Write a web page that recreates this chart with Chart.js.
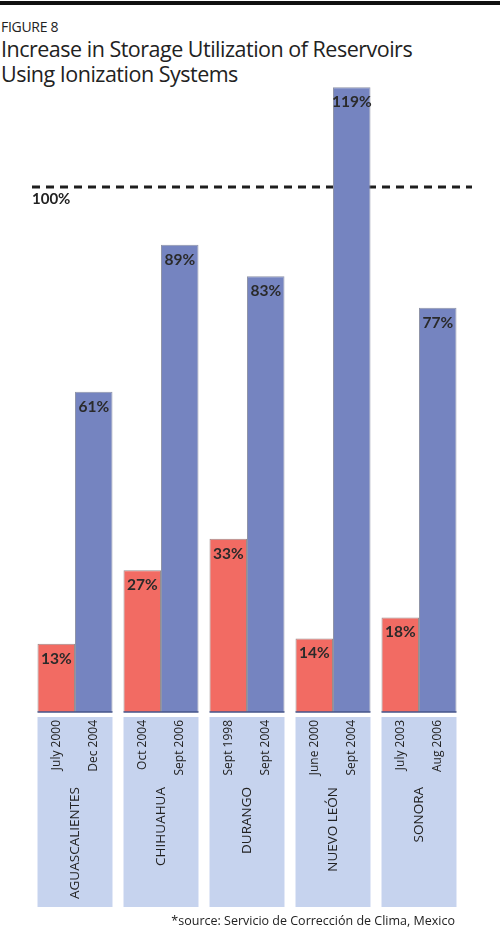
<!DOCTYPE html>
<html>
<head>
<meta charset="utf-8">
<script src="https://cdn.jsdelivr.net/npm/chart.js@4.4.0/dist/chart.umd.min.js"></script>
<style>
  body { margin: 0; background: #fff; }
  #wrap { position: relative; width: 500px; height: 928px; overflow: hidden; }
  #rule { position: absolute; left: 0; top: 1px; width: 500px; height: 4px; background: #111; }
  #fig { position: absolute; left: 1px; top: 17px; font: 14px "Open Sans", sans-serif; color: #222; letter-spacing: -0.3px; }
  #title { position: absolute; left: 1px; top: 36px; font: 21.5px/25px "Open Sans", sans-serif; color: #222; letter-spacing: -0.5px; }
  #src { position: absolute; right: 45px; top: 912px; font: 12.5px "Open Sans", sans-serif; color: #222; }
  canvas { position: absolute; left: 0; top: 0; }
</style>
</head>
<body>
<div id="wrap">
  <div id="rule"></div>
  <div id="fig">FIGURE 8</div>
  <div id="title">Increase in Storage Utilization of Reservoirs<br>Using Ionization Systems</div>
  <canvas id="myChart" width="500" height="928"></canvas>
  <div id="src">*source: Servicio de Corrección de Clima, Mexico</div>
</div>
<script>
var states = ['AGUASCALIENTES', 'CHIHUAHUA', 'DURANGO', 'NUEVO LEÓN', 'SONORA']
var before = [13, 27, 33, 14, 18]
var after = [61, 89, 83, 119, 77]
var beforeDates = ['July 2000', 'Oct 2004', 'Sept 1998', 'June 2000', 'July 2003']
var afterDates = ['Dec 2004', 'Sept 2006', 'Sept 2004', 'Sept 2004', 'Aug 2006']
var fullLevel = 100

// draws the dashed 100% line, the label boxes under the bars and the values
var extras = {
  id: 'extras',
  beforeDatasetsDraw: function(chart) {
    var c = chart.ctx
    var y = chart.scales.y.getPixelForValue(fullLevel)
    c.save()
    c.strokeStyle = '#1e1e1e'
    c.lineWidth = 3
    c.setLineDash([8, 6])
    c.beginPath()
    c.moveTo(32, y)
    c.lineTo(472, y)
    c.stroke()
    c.setLineDash([])
    c.fillStyle = '#222'
    c.font = 'bold 15px Lato, sans-serif'
    c.textBaseline = 'top'
    c.fillText(fullLevel + '%', 32, y + 5)
    c.restore()
  },
  afterDatasetsDraw: function(chart) {
    var c = chart.ctx
    var base = chart.scales.y.getPixelForValue(0)
    var m0 = chart.getDatasetMeta(0).data
    var m1 = chart.getDatasetMeta(1).data
    c.save()
    for (var i = 0; i < states.length; i++) {
      var left = m0[i].x - m0[i].width / 2
      var right = m1[i].x + m1[i].width / 2
      // label box
      c.fillStyle = '#c6d3ee'
      c.fillRect(left, base + 5, right - left, 190)
      // dark base line
      c.strokeStyle = '#44548a'
      c.lineWidth = 1.5
      c.beginPath()
      c.moveTo(left, base)
      c.lineTo(right, base)
      c.stroke()
      // dates and names, rotated
      c.fillStyle = '#222'
      c.textAlign = 'right'
      c.textBaseline = 'middle'
      var items = [[m0[i].x, base + 8, beforeDates[i], '12px'], [m1[i].x, base + 8, afterDates[i], '12px'], [(left + right) / 2, base + 75, states[i], '13.5px']]
      items.forEach(function(it) {
        c.save()
        c.translate(it[0], it[1])
        c.rotate(-Math.PI / 2)
        c.font = it[3] + ' "Open Sans", sans-serif'
        c.fillText(it[2], 0, 0)
        c.restore()
      })
      // values at the top of each bar
      c.font = 'bold 15.5px Lato, sans-serif'
      c.textAlign = 'center'
      c.textBaseline = 'top'
      c.fillStyle = '#2a2a2a'
      c.fillText(before[i] + '%', m0[i].x, m0[i].y + 7)
      c.fillText(after[i] + '%', m1[i].x, m1[i].y + 7)
    }
    c.restore()
  }
}

ctx = document.getElementById('myChart')

chart = new Chart(ctx, {
  type: 'bar',
  data: {
    labels: states,
    datasets: [{
      label: 'Before',
      data: before,
      backgroundColor: '#f26b63',
      borderColor: '#9a8c8c',
      borderWidth: 1
    }, {
      label: 'After',
      data: after,
      backgroundColor: '#7584c0',
      borderColor: '#8f94a8',
      borderWidth: 1
    }]
  },
  options: {
    responsive: false,
    animation: false,
    layout: { padding: { left: 32, right: 38, top: 82, bottom: 216 } },
    datasets: { bar: { categoryPercentage: 0.872, barPercentage: 1 } },
    plugins: { legend: { display: false }, tooltip: { enabled: false } },
    scales: {
      x: { display: false },
      y: { display: false, min: 0, max: 120 }
    }
  },
  plugins: [extras]
})
</script>
</body>
</html>
